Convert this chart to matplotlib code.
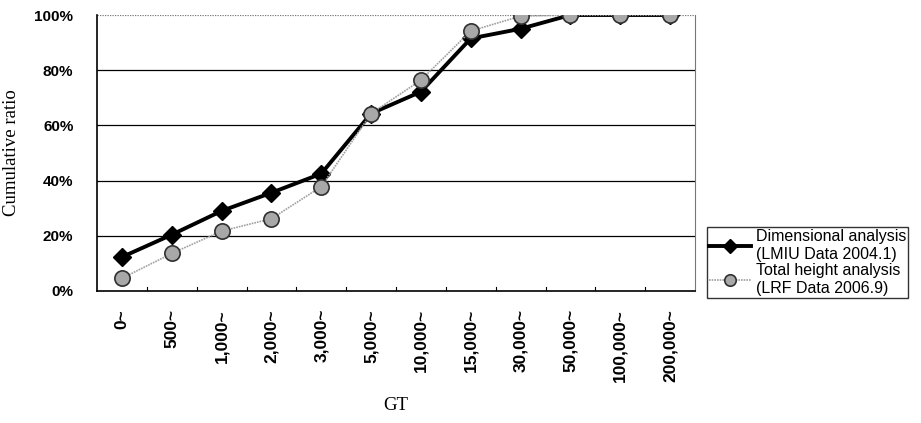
import numpy as np
import matplotlib.pyplot as plt

categories = ['0~', '500~', '1,000~', '2,000~', '3,000~', '5,000~', '10,000~',
              '15,000~', '30,000~', '50,000~', '100,000~', '200,000~']
dimensional = [12.3, 20.4, 29.0, 35.6, 42.5, 64.3, 72.2, 91.5, 95.0, 100, 100, 100]
total_height = [4.6, 13.6, 21.7, 26.2, 37.8, 64.3, 76.4, 94.2, 99.6, 100, 100, 100]

label_dim = 'Dimensional analysis\n(LMIU Data 2004.1)'
label_tot = 'Total height analysis\n(LRF Data 2006.9)'

fig = plt.figure(figsize=(9.21, 4.23), dpi=100)
ax = fig.add_axes([97 / 921, 1 - 291 / 423, 598 / 921, 276 / 423])

x = np.arange(len(categories))
ax.plot(x, dimensional, color='black', lw=2.8, marker='D', ms=9,
        mfc='black', mec='black', label=label_dim, zorder=3)
ax.plot(x, total_height, color='#a0a0a0', lw=1.2, ls=(0, (1, 0.6)), marker='o',
        ms=11, mfc='#a8a8a8', mec='#303030', mew=1.2, label=label_tot, zorder=4)

ax.set_xlim(-0.5, len(categories) - 0.5)
ax.set_ylim(0, 100)
ax.set_yticks([0, 20, 40, 60, 80, 100])
ax.set_yticklabels(['0%', '20%', '40%', '60%', '80%', '100%'],
                   fontfamily='Liberation Sans', fontweight='bold', fontsize=11)
ax.tick_params(axis='y', length=0, pad=17)
for yv in [20, 40, 60, 80]:
    ax.axhline(yv, color='black', lw=0.9, zorder=1)
ax.axhline(100, color='#777777', lw=0.9, ls=(0, (1, 1)), zorder=1)

ax.set_xticks(x)
ax.set_xticklabels(categories, rotation=90, fontfamily='Liberation Sans',
                   fontweight='bold', fontsize=12.5)
ax.tick_params(axis='x', length=0, pad=13)
for xv in np.arange(0.5, len(categories) - 0.5, 1.0):
    ax.plot([xv, xv], [0, 1.5], color='black', lw=0.8, zorder=2)

ax.spines['top'].set_visible(False)
ax.spines['right'].set_color('#777777')
ax.spines['right'].set_linestyle((0, (1, 1)))
ax.spines['left'].set_linewidth(1.2)
ax.spines['bottom'].set_linewidth(1.2)

ax.set_ylabel('Cumulative ratio', fontfamily='Liberation Serif', fontsize=13.5)
ax.yaxis.set_label_coords(-0.128, 0.5)
ax.set_xlabel('GT', fontfamily='Liberation Serif', fontsize=13.5)
ax.xaxis.set_label_coords(0.5, -0.385)

leg = fig.legend(loc='upper left', bbox_to_anchor=(707 / 921, 1 - 227 / 423),
                 frameon=True, fancybox=False, edgecolor='black', handlelength=2.6,
                 handletextpad=0.3, borderpad=0.15, labelspacing=0.1,
                 borderaxespad=0.0, markerscale=0.75,
                 prop={'family': 'Liberation Sans', 'size': 11.5})
leg.get_frame().set_linewidth(1.0)

fig.savefig('out.png', dpi=100)
